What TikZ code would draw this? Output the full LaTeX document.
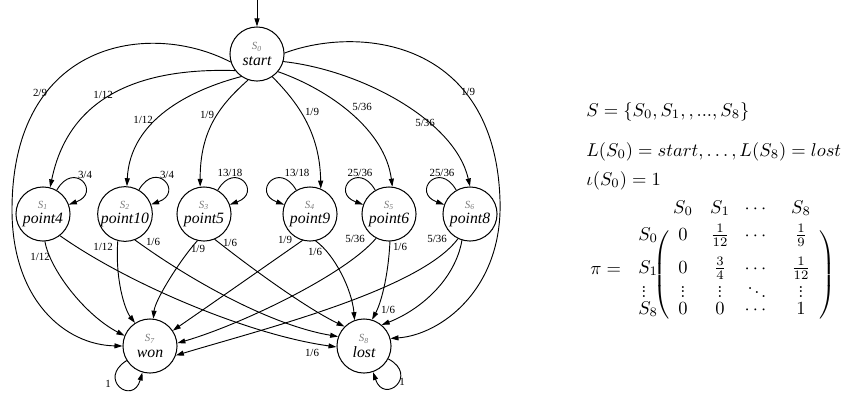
\documentclass[tikz,border=0pt]{standalone}
\usepackage{amsmath,amssymb}
\usepackage{fontspec}
\newfontfamily\gvfont{Liberation Serif}
\usetikzlibrary{arrows.meta}
\definecolor{gray}{HTML}{7A7A7A}
\tikzset{
  every picture/.style={line join=round, line cap=round, >={Triangle[length=4.3pt,width=2.7pt]}},
  stnode/.style={draw, circle, line width=0.55pt, minimum size=29.2pt, inner sep=0pt, align=center, font=\gvfont\itshape\fontsize{8.5}{8.5}\selectfont},
  trans/.style={->, line width=0.5pt},
  prob/.style={font=\gvfont\fontsize{5.9}{6}\selectfont, inner sep=0pt},
  mtext/.style={anchor=base west, inner sep=0pt},
  mcell/.style={anchor=base, inner sep=0pt},
}
\newcommand{\sname}[1]{{\color{gray}\fontsize{5.9}{6}\selectfont S\textsubscript{#1}}}
\newcommand{\vd}{\vbox{\baselineskip2.3pt\lineskiplimit0pt\hbox{.}\hbox{.}\hbox{.}}}
\newcommand{\dd}{\raise4.2pt\hbox{.}\kern0.9pt\raise2.1pt\hbox{.}\kern0.9pt\hbox{.}}

\begin{document}
\begin{tikzpicture}[x=0.54pt,y=0.54pt]
\useasboundingbox (0,0) rectangle (841,392);
\node[stnode] (s0) at (257,338) {\sname{0}\\start};
\node[stnode] (s1) at (43,178) {\sname{1}\\point4};
\node[stnode] (s2) at (125,178) {\sname{2}\\point10};
\node[stnode] (s3) at (204,178) {\sname{3}\\point5};
\node[stnode] (s4) at (310,178) {\sname{4}\\point9};
\node[stnode] (s5) at (389,178) {\sname{5}\\point6};
\node[stnode] (s6) at (470,178) {\sname{6}\\point8};
\node[stnode] (s7) at (150,46) {\sname{7}\\won};
\node[stnode] (s8) at (364,46) {\sname{8}\\lost};
\coordinate (init) at (257,392);
\draw[trans] (init) -- (s0);
\draw[trans] (s0.197) .. controls (150,372) and (12,352) .. (12,182) .. controls (12,92) and (65,47) .. (s7.180);
\draw[trans] (s0.217) .. controls (150,324) and (70,302) .. (s1.75);
\draw[trans] (s0.235) .. controls (190,302) and (130,272) .. (s2.86);
\draw[trans] (s0.251) .. controls (220,287) and (200,262) .. (s3.98);
\draw[trans] (s0.304) .. controls (295,292) and (320,262) .. (s4.67);
\draw[trans] (s0.320) .. controls (330,302) and (385,262) .. (s5.83);
\draw[trans] (s0.344) .. controls (360,322) and (455,272) .. (s6.90);
\draw[trans] (s0.2) .. controls (360,367) and (495,352) .. (500,192) .. controls (503,102) and (440,57) .. (s8.16);
\draw[trans] (s1.60) .. controls +(60:35) and +(20:35) .. (s1.20);
\draw[trans] (s2.60) .. controls +(60:35) and +(20:35) .. (s2.20);
\draw[trans] (s3.60) .. controls +(60:35) and +(20:35) .. (s3.20);
\draw[trans] (s4.120) .. controls +(120:35) and +(160:35) .. (s4.160);
\draw[trans] (s5.120) .. controls +(120:35) and +(160:35) .. (s5.160);
\draw[trans] (s6.120) .. controls +(120:35) and +(160:35) .. (s6.160);
\draw[trans] (s7.212) .. controls +(212:35) and +(254:35) .. (s7.254);
\draw[trans] (s8.332) .. controls +(332:35) and +(289:35) .. (s8.289);
\draw[trans] (s1.274) .. controls (50,122) and (85,77) .. (s7.158);
\draw[trans] (s1.308) .. controls (130,107) and (250,57) .. (s8.182);
\draw[trans] (s2.255) .. controls (115,112) and (125,82) .. (s7.123);
\draw[trans] (s2.291) .. controls (190,112) and (270,67) .. (s8.160);
\draw[trans] (s3.256) .. controls (180,132) and (155,92) .. (s7.83);
\draw[trans] (s3.293) .. controls (260,117) and (310,82) .. (s8.135);
\draw[trans] (s4.254) .. controls (260,122) and (210,87) .. (s7.34);
\draw[trans] (s4.282) .. controls (335,137) and (352,102) .. (s8.110);
\draw[trans] (s5.242) .. controls (345,117) and (240,67) .. (s7.6);
\draw[trans] (s5.272) .. controls (388,112) and (380,87) .. (s8.73);
\draw[trans] (s6.244) .. controls (420,102) and (260,62) .. (s7.340);
\draw[trans] (s6.253) .. controls (455,112) and (420,82) .. (s8.50);
\node[prob] (p07) at (40,299) {2/9};
\node[prob] (p01) at (103,297) {1/12};
\node[prob] (p02) at (143,272) {1/12};
\node[prob] (p03) at (207,277) {1/9};
\node[prob] (p04) at (312,280) {1/9};
\node[prob] (p05) at (362,285) {5/36};
\node[prob] (p06) at (425,269) {5/36};
\node[prob] (p08) at (468,300) {1/9};
\node[prob] (p11) at (85,217) {3/4};
\node[prob] (p22) at (167,217) {3/4};
\node[prob] (p33) at (230,219) {13/18};
\node[prob] (p44) at (297,219) {13/18};
\node[prob] (p55) at (360,219) {25/36};
\node[prob] (p66) at (442,219) {25/36};
\node[prob] (p17) at (40,135) {1/12};
\node[prob] (p27) at (103,145) {1/12};
\node[prob] (p28) at (153,150) {1/6};
\node[prob] (p37) at (198,143) {1/9};
\node[prob] (p38) at (230,149) {1/6};
\node[prob] (p47) at (285,152) {1/9};
\node[prob] (p48) at (315,140) {1/6};
\node[prob] (p57) at (355,153) {5/36};
\node[prob] (p58) at (400,145) {1/6};
\node[prob] (p67) at (437,153) {5/36};
\node[prob] (p68) at (388,82) {1/6};
\node[prob] (p18) at (312,39) {1/6};
\node[prob] (p77) at (108,8) {1};
\node[prob] (p88) at (402,10) {1};
\node[mtext] (mset) at (586,276) {$S=\{S_0,S_1,,...,S_8\}$};
\node[mtext] (mlab) at (586,236) {$L(S_0)=start,\ldots,L(S_8)=lost$};
\node[mtext] (minit) at (586,207) {$\iota(S_0)=1$};
\node[mtext] (mpi) at (590,118) {$\pi =$};
\node[mtext] (r1) at (638,152) {$S_0$};
\node[mtext] (r2) at (638,119) {$S_1$};
\node[mtext] (r3) at (641,95) {$\vd$};
\node[mtext] (r4) at (638,78) {$S_8$};
\foreach \xx/\ent [count=\c] in {683/S_0, 720/S_1, 757/\cdots, 801/S_8}
  \node[mcell] (h\c) at (\xx,179) {$\ent$};
\foreach \xx/\ent [count=\c] in {683/0, 720/\frac{1}{12}, 757/\cdots, 801/\frac{1}{9}}
  \node[mcell] (a\c) at (\xx,152) {$\ent$};
\foreach \xx/\ent [count=\c] in {683/0, 720/\frac{3}{4}, 757/\cdots, 801/\frac{1}{12}}
  \node[mcell] (b\c) at (\xx,119) {$\ent$};
\foreach \xx/\ent [count=\c] in {683/\vd, 720/\vd, 757/\dd, 801/\vd}
  \node[mcell] (c\c) at (\xx,95) {$\ent$};
\foreach \xx/\ent [count=\c] in {683/0, 720/0, 757/\cdots, 801/1}
  \node[mcell] (d\c) at (\xx,78) {$\ent$};
\node[inner sep=0pt] (lpar) at (663,117) {$\left(\vcenter{\hbox{\rule{0pt}{53pt}}}\right.$};
\node[inner sep=0pt] (rpar) at (826,117) {$\left.\vcenter{\hbox{\rule{0pt}{53pt}}}\right)$};
\end{tikzpicture}
\end{document}
